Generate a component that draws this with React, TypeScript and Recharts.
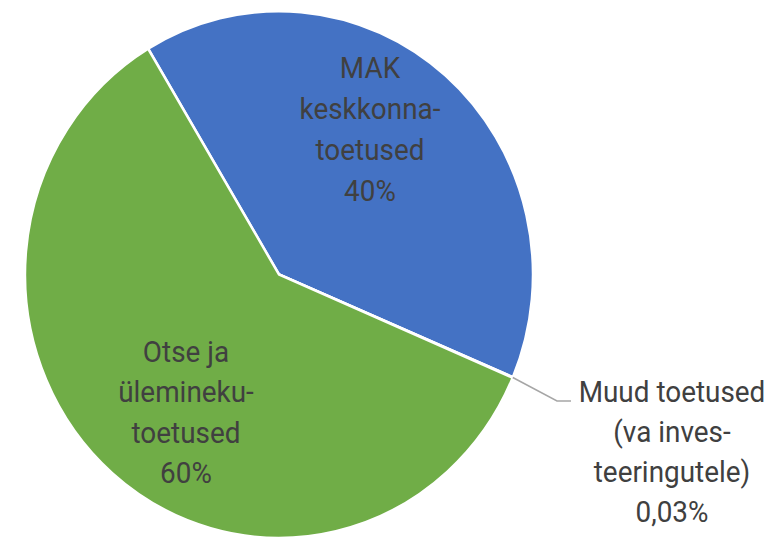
import React from 'react';
import { PieChart, Pie, Cell } from 'recharts';

const categories = ['MAK keskkonnatoetused', 'Muud toetused (va investeeringutele)', 'Otse ja üleminekutoetused'];
const shares = [40, 0.03, 60];
const labelLines = [
  ['MAK', 'keskkonna-', 'toetused'],
  ['Muud toetused', '(va inves-', 'teeringutele)'],
  ['Otse ja', 'ülemineku-', 'toetused'],
];
const colors = ['#4472C4', '#A5A5A5', '#70AD47'];

const data = categories.map((name, i) => ({ name, value: shares[i] }));

const fmt = (v: number) => `${String(v).replace('.', ',')}%`;

const CX = 279;
const CY = 274.5;
const R = 254;
const SY = 1.037;

// label anchor offsets from pie center (dx, first baseline dy)
const labelPlacement = [
  { dx: 91, dy: -196.5, lh: 41 },
  { dx: 393, dy: 127.5, lh: 40 },
  { dx: -93, dy: 87.5, lh: 40.5 },
];

const TEXT = '#404040';

const renderLabel = (props: any) => {
  const { cx, cy, index, outerRadius, midAngle } = props;
  const p = labelPlacement[index];
  const x = cx + p.dx;
  const y0 = cy + p.dy;
  const lines = [...labelLines[index], fmt(shares[index])];
  let leader = null;
  if (index === 1) {
    const rad = (Math.PI / 180) * midAngle;
    const sx = cx + outerRadius * Math.cos(rad);
    const sy = cy - outerRadius * SY * Math.sin(rad);
    const ey = y0 - 1;
    const ex = x - 101;
    const mx = ex - 14;
    leader = (
      <polyline
        points={`${sx},${sy} ${mx},${ey} ${ex},${ey}`}
        fill="none"
        stroke="#A6A6A6"
        strokeWidth={1.5}
      />
    );
  }
  return (
    <g key={`lbl-${index}`}>
      {leader}
      <text
        x={x}
        y={y0}
        textAnchor="middle"
        fill={TEXT}
        fontFamily="Roboto, 'Noto Sans', sans-serif"
        fontSize={30}
        transform={`translate(${x},0) scale(0.93,1) translate(${-x},0)`}
      >
        {lines.map((l, i) => (
          <tspan key={i} x={x} dy={i === 0 ? 0 : p.lh}>
            {l}
          </tspan>
        ))}
      </text>
    </g>
  );
};

export default function App() {
  return (
    <div style={{ position: 'absolute', left: 0, top: 0, background: '#fff' }}>
      <style>{`.recharts-pie-sector { transform: translateY(${CY}px) scaleY(${SY}) translateY(${-CY}px); }`}</style>
      <PieChart width={773} height={539} margin={{ top: 0, right: 0, bottom: 0, left: 0 }}>
        <Pie
          data={data}
          dataKey="value"
          nameKey="name"
          cx={CX}
          cy={CY}
          outerRadius={R}
          startAngle={121}
          endAngle={-239}
          stroke="#FFFFFF"
          strokeWidth={2.5}
          label={renderLabel}
          labelLine={false}
          isAnimationActive={false}
        >
          {data.map((d, i) => (
            <Cell key={d.name} fill={colors[i]} />
          ))}
        </Pie>
      </PieChart>
    </div>
  );
}
